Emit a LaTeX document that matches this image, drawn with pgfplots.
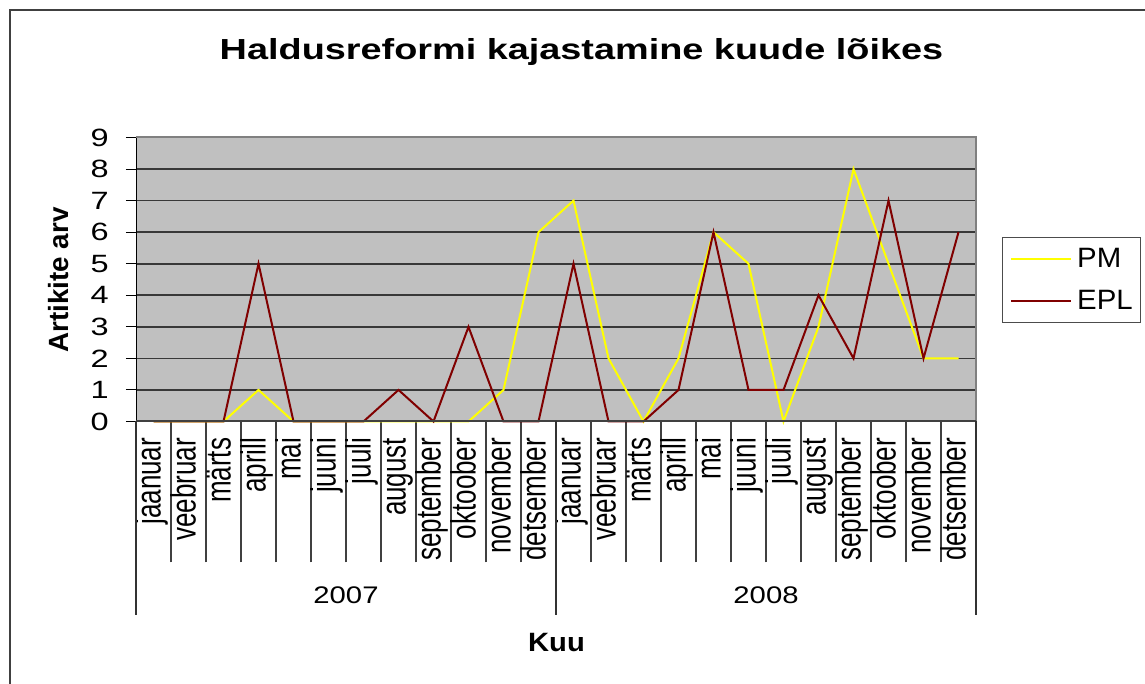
\documentclass[border=0pt]{standalone}
\usepackage{pgfplots}
\pgfplotsset{compat=1.18}
\usepackage{fontspec}
\setmainfont{Liberation Sans}
\usepackage{graphicx}

\definecolor{pmyellow}{RGB}{255,255,0}
\definecolor{eplred}{RGB}{128,0,0}
\definecolor{plotgray}{RGB}{192,192,192}
\newcommand{\m}[1]{\scalebox{1}[1.35]{#1}\rule[-6pt]{0pt}{19pt}}

\pgfplotstableread{
x    pm  epl
0.5  0   0
1.5  0   0
2.5  0   0
3.5  1   5
4.5  0   0
5.5  0   0
6.5  0   0
7.5  0   1
8.5  0   0
9.5  0   3
10.5 1   0
11.5 6   0
12.5 7   5
13.5 2   0
14.5 0   0
15.5 2   1
16.5 6   6
17.5 5   1
18.5 0   1
19.5 3   4
20.5 8   2
21.5 5   7
22.5 2   2
23.5 2   6
}\datatable

\begin{document}
\begin{tikzpicture}
\draw[black!75, line width=1.25pt] (5pt,-5pt) -- (5pt,337pt) -- (580pt,337pt);
\begin{axis}[
  at={(68pt,131.25pt)}, anchor=south west,
  scale only axis, width=420pt, height=142pt,
  xmin=0, xmax=24, ymin=0, ymax=9,
  axis background/.style={fill=plotgray},
  axis line style={draw=none},
  clip=false,
  ytick={0,...,9},
  ymajorgrids, major grid style={black!78, line width=0.8pt},
  tick align=outside,
  xtick pos=left, ytick pos=left,
  major tick length=5pt, minor tick length=70.5pt,
  xtick={0.5,1.5,...,23.5},
  xticklabels={\m{jaanuar},\m{veebruar},\m{märts},\m{aprill},\m{mai},\m{juuni},\m{juuli},\m{august},\m{september},\m{oktoober},\m{november},\m{detsember},\m{jaanuar},\m{veebruar},\m{märts},\m{aprill},\m{mai},\m{juuni},\m{juuli},\m{august},\m{september},\m{oktoober},\m{november},\m{detsember}},
  minor xtick={0,1,...,24},
  major x tick style={draw=none},
  minor x tick style={black!75, line width=0.6pt},
  major y tick style={black, line width=0.5pt},
  xticklabel style={font=\fontsize{13}{15.6}\selectfont, rotate=90, anchor=east, inner sep=0pt, xshift=-3pt},
  yticklabel style={font=\fontsize{12.5}{15}\selectfont, /pgf/number format/assume math mode=true, xscale=1.3, anchor=east, inner sep=0pt, xshift=-6.5pt},
  legend style={at={(axis description cs:1.0306,0.6486)}, anchor=north west,
    draw=black!70, line width=0.5pt, fill=white,
    font=\fontsize{14}{16.8}\selectfont,
    inner xsep=4pt, inner ysep=5pt, row sep=10pt,
    nodes={inner sep=0pt},
    /tikz/every odd column/.append style={column sep=2.5pt}},
  legend cell align=left,
  legend image code/.code={\draw[#1, line width=1pt] (0pt,0pt) -- (30pt,0pt);},
]
\addplot[pmyellow, line width=1pt] table[x=x, y=pm] {\datatable};
\addplot[eplred, line width=1pt] table[x=x, y=epl] {\datatable};
\legend{\scalebox{1.05}[1]{PM}, \scalebox{1.05}[1]{EPL}}
\draw[black, line width=0.5pt] (rel axis cs:0,0) -- (rel axis cs:0,1);
\draw[gray, line width=1pt] (rel axis cs:0,1) -- (rel axis cs:1,1) -- (rel axis cs:1,0);
\draw[black!75, line width=1pt] (rel axis cs:0,0) -- (rel axis cs:1,0);
\draw[black!80, line width=0.6pt] (axis cs:0,0) -- ++(0pt,-97pt);
\draw[black!80, line width=0.6pt] (axis cs:12,0) -- ++(0pt,-97pt);
\draw[black!80, line width=0.6pt] (axis cs:24,0) -- ++(0pt,-97pt);
\node[anchor=base, yshift=-91.25pt, font=\fontsize{12}{14.4}\selectfont, xscale=1.22] at (axis cs:6,0) {2007};
\node[anchor=base, yshift=-91.25pt, font=\fontsize{12}{14.4}\selectfont, xscale=1.22] at (axis cs:18,0) {2008};
\end{axis}
\node[anchor=base, font=\bfseries\fontsize{14.5}{17.4}\selectfont, xscale=1.305] at (290.75pt,312pt) {Haldusreformi kajastamine kuude lõikes};
\node[anchor=base, font=\bfseries\fontsize{13.25}{16}\selectfont, xscale=1.1] at (278.25pt,16pt) {Kuu};
\node[anchor=center, rotate=90, font=\bfseries\fontsize{13.9}{16.7}\selectfont] at (29.5pt,202pt) {Artikite arv};
\pgfresetboundingbox
\path[use as bounding box] (0pt,0pt) rectangle (572.5pt,342pt);
\end{tikzpicture}
\end{document}
